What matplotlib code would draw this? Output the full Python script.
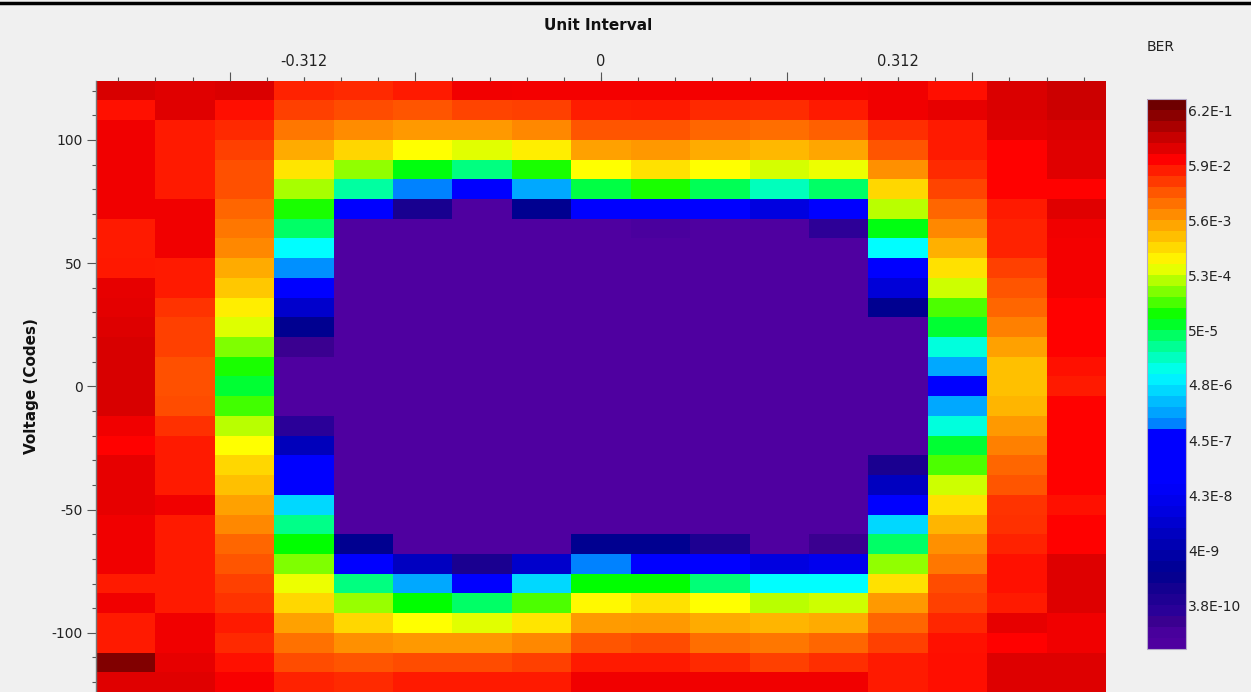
import numpy as np
import matplotlib
matplotlib.use("Agg")
import matplotlib.pyplot as plt
from matplotlib.colors import LinearSegmentedColormap, ListedColormap, Normalize
from matplotlib.cm import ScalarMappable

# ---------------- data ----------------
unit_interval = [-0.5, -0.4375, -0.375, -0.3125, -0.25, -0.1875, -0.125, -0.0625, 0.0,
                 0.0625, 0.125, 0.1875, 0.25, 0.3125, 0.375, 0.4375, 0.5]
voltage_codes = [120, 112, 104, 96, 88, 80, 72, 64, 56, 48, 40, 32, 24, 16, 8, 0,
                 -8, -16, -24, -32, -40, -48, -56, -64, -72, -80, -88, -96, -104, -112, -120]

# log10(BER) for every cell, rows follow voltage_codes, columns follow unit_interval
ber_log10 = [
    [-0.85, -0.92, -0.87, -1.36, -1.41, -1.31, -1.04, -1.05, -1.05, -1.05, -1.05, -1.05, -1.05, -1.03, -1.22, -0.87, -0.75],
    [-1.24, -0.92, -1.22, -1.57, -1.66, -1.73, -1.60, -1.57, -1.32, -1.31, -1.41, -1.43, -1.31, -1.03, -0.97, -0.87, -0.75],
    [-1.03, -1.31, -1.41, -1.99, -2.15, -2.25, -2.25, -2.12, -1.73, -1.73, -1.86, -1.92, -1.81, -1.45, -1.31, -0.92, -0.87],
    [-1.03, -1.31, -1.57, -2.39, -2.73, -3.07, -3.19, -2.93, -2.31, -2.24, -2.39, -2.50, -2.35, -1.73, -1.31, -1.13, -0.92],
    [-1.03, -1.31, -1.69, -2.86, -3.51, -4.10, -4.50, -3.96, -3.07, -2.82, -3.07, -3.24, -3.14, -2.18, -1.42, -1.13, -0.92],
    [-1.03, -1.31, -1.69, -3.42, -4.66, -6.04, -6.65, -5.79, -4.29, -3.96, -4.35, -4.79, -4.41, -2.74, -1.60, -1.13, -1.13],
    [-1.03, -1.03, -1.86, -3.96, -6.65, -9.18, -10.2, -8.80, -6.65, -6.65, -6.65, -7.67, -6.65, -3.35, -1.86, -1.31, -0.92],
    [-1.31, -1.03, -1.99, -4.41, -10.2, -10.2, -10.2, -10.2, -10.2, -9.96, -10.2, -10.2, -9.55, -4.11, -2.12, -1.36, -1.03],
    [-1.31, -1.03, -2.12, -5.12, -10.2, -10.2, -10.2, -10.2, -10.2, -10.2, -10.2, -10.2, -10.2, -5.12, -2.43, -1.36, -1.05],
    [-1.29, -1.31, -2.39, -5.97, -10.2, -10.2, -10.2, -10.2, -10.2, -10.2, -10.2, -10.2, -10.2, -6.65, -2.82, -1.57, -1.05],
    [-0.97, -1.31, -2.62, -6.65, -10.2, -10.2, -10.2, -10.2, -10.2, -10.2, -10.2, -10.2, -10.2, -7.78, -3.27, -1.73, -1.05],
    [-0.95, -1.48, -2.93, -7.93, -10.2, -10.2, -10.2, -10.2, -10.2, -10.2, -10.2, -10.2, -10.2, -8.80, -3.77, -1.86, -1.13],
    [-0.90, -1.57, -3.20, -8.80, -10.2, -10.2, -10.2, -10.2, -10.2, -10.2, -10.2, -10.2, -10.2, -10.2, -4.23, -2.06, -1.13],
    [-0.85, -1.57, -3.58, -9.72, -10.2, -10.2, -10.2, -10.2, -10.2, -10.2, -10.2, -10.2, -10.2, -10.2, -4.95, -2.31, -1.13],
    [-0.85, -1.69, -3.96, -10.2, -10.2, -10.2, -10.2, -10.2, -10.2, -10.2, -10.2, -10.2, -10.2, -10.2, -5.79, -2.56, -1.24],
    [-0.85, -1.69, -4.23, -10.2, -10.2, -10.2, -10.2, -10.2, -10.2, -10.2, -10.2, -10.2, -10.2, -10.2, -6.65, -2.56, -1.31],
    [-0.85, -1.66, -3.81, -10.2, -10.2, -10.2, -10.2, -10.2, -10.2, -10.2, -10.2, -10.2, -10.2, -10.2, -5.79, -2.47, -1.13],
    [-1.03, -1.46, -3.35, -9.51, -10.2, -10.2, -10.2, -10.2, -10.2, -10.2, -10.2, -10.2, -10.2, -10.2, -4.95, -2.25, -1.13],
    [-1.13, -1.31, -3.07, -8.16, -10.2, -10.2, -10.2, -10.2, -10.2, -10.2, -10.2, -10.2, -10.2, -10.2, -4.23, -2.06, -1.13],
    [-0.97, -1.31, -2.74, -6.65, -10.2, -10.2, -10.2, -10.2, -10.2, -10.2, -10.2, -10.2, -10.2, -9.21, -3.77, -1.86, -1.13],
    [-0.97, -1.31, -2.56, -6.65, -10.2, -10.2, -10.2, -10.2, -10.2, -10.2, -10.2, -10.2, -10.2, -8.08, -3.27, -1.73, -1.13],
    [-0.97, -1.03, -2.31, -5.42, -10.2, -10.2, -10.2, -10.2, -10.2, -10.2, -10.2, -10.2, -10.2, -6.65, -2.82, -1.48, -1.24],
    [-1.03, -1.31, -2.12, -4.54, -10.2, -10.2, -10.2, -10.2, -10.2, -10.2, -10.2, -10.2, -10.2, -5.42, -2.47, -1.46, -1.13],
    [-1.03, -1.31, -1.86, -4.05, -8.80, -10.2, -10.2, -10.2, -8.80, -8.80, -9.26, -10.2, -9.72, -4.41, -2.18, -1.36, -1.13],
    [-1.03, -1.31, -1.73, -3.58, -6.65, -8.08, -9.21, -7.93, -6.04, -6.65, -6.65, -7.67, -7.44, -3.51, -1.99, -1.24, -0.90],
    [-1.31, -1.31, -1.57, -3.14, -4.50, -5.79, -6.65, -5.42, -4.05, -4.05, -4.47, -5.12, -5.12, -2.82, -1.66, -1.24, -0.90],
    [-1.03, -1.31, -1.48, -2.74, -3.48, -4.05, -4.41, -3.77, -3.02, -2.82, -3.07, -3.35, -3.27, -2.25, -1.57, -1.31, -0.90],
    [-1.31, -1.03, -1.31, -2.31, -2.74, -3.07, -3.19, -2.86, -2.27, -2.25, -2.39, -2.47, -2.39, -1.86, -1.39, -0.97, -1.03],
    [-1.31, -1.03, -1.41, -1.94, -2.18, -2.25, -2.25, -2.12, -1.73, -1.66, -1.92, -1.99, -1.86, -1.57, -1.24, -1.13, -1.03],
    [-0.23, -0.97, -1.24, -1.66, -1.73, -1.66, -1.66, -1.57, -1.31, -1.31, -1.41, -1.57, -1.45, -1.31, -1.22, -0.90, -0.90],
    [-0.92, -0.92, -1.08, -1.36, -1.42, -1.31, -1.31, -1.31, -1.03, -1.03, -1.03, -1.03, -1.03, -1.31, -1.22, -0.90, -0.90],
]

x_tick_values = [-0.3125, 0.0, 0.3125]
x_tick_labels = ["-0.312", "0", "0.312"]
y_tick_values = [-100, -50, 0, 50, 100]
y_tick_labels = ["-100", "-50", "0", "50", "100"]
ber_tick_values = [6.2e-1, 5.9e-2, 5.6e-3, 5.3e-4, 5e-5, 4.8e-6, 4.5e-7, 4.3e-8, 4e-9, 3.8e-10]
ber_tick_labels = ["6.2E-1", "5.9E-2", "5.6E-3", "5.3E-4", "5E-5", "4.8E-6",
                   "4.5E-7", "4.3E-8", "4E-9", "3.8E-10"]

# ---------------- colour scale ----------------
N_BANDS = 50
STEP = 0.2046                 # decades per colour band
L_MIN = -N_BANDS * STEP
anchors = [(0, '#600000'), (0.5, '#6E0000'), (1.5, '#8C0000'), (2.5, '#AA0000'),
           (3.5, '#C80000'), (4.5, '#E00000'), (5.5, '#FF0000'), (8.1, '#FF4C00'),
           (11, '#FF9900'), (13.4, '#FFD700'), (15, '#FFFF00'), (17.5, '#7FFF00'),
           (19.8, '#00FF00'), (22, '#00FF80'), (25, '#00FFFF'), (29.5, '#0088FF'),
           (30, '#0000FF'), (35, '#0000FF'), (37.5, '#0000E0'), (39.5, '#0000C0'),
           (43, '#000090'), (45, '#1A0090'), (46.5, '#2A0098'), (47.5, '#3A0090'),
           (48.7, '#4A009E'), (50, '#5000A0')]
cm_list = sorted([(1 - k / N_BANDS, c) for k, c in anchors])
cmap = LinearSegmentedColormap.from_list('ber', cm_list, N=1024)
norm = Normalize(vmin=L_MIN, vmax=0.0)
band_centres = np.linspace(0, 1, N_BANDS, endpoint=False) + 0.5 / N_BANDS
band_cmap = ListedColormap([cmap(u) for u in band_centres])

# ---------------- figure ----------------
BG = '#F0F0F0'
W, H = 1251, 692
fig = plt.figure(figsize=(W / 100, H / 100), dpi=100, facecolor=BG)

ax = fig.add_axes([96 / W, 0.0, 1010 / W, (H - 80.7) / H])
ax.set_facecolor(BG)

xc = np.array(unit_interval)
yc = np.array(voltage_codes, dtype=float)
def edges(c):
    mid = (c[:-1] + c[1:]) / 2
    return np.concatenate([[c[0] - (c[1] - c[0]) / 2], mid, [c[-1] + (c[-1] - c[-2]) / 2]])
xe = edges(xc)
ye = edges(yc)
ax.pcolormesh(xe, ye, np.array(ber_log10), cmap=cmap, norm=norm,
              shading='flat', antialiased=False, edgecolors='none')
ax.set_xlim(xe[0], xe[-1])
ax.set_ylim(min(ye), max(ye))

tick_col = '#555555'
lab_col = '#222222'
for s in ['right', 'bottom', 'top']:
    ax.spines[s].set_visible(False)
ax.spines['left'].set_color('#777777')
ax.spines['left'].set_linewidth(1.0)

# x axis on top
ax.xaxis.tick_top()
ax.tick_params(axis='x', which='both', bottom=False, top=True, labeltop=False,
               labelbottom=False, colors=tick_col)
minor_x = np.arange(-13, 14) * (5 / 128)
long_x = np.arange(-2, 3) * (25 / 128)
ax.set_xticks(long_x)
ax.set_xticks(minor_x, minor=True)
ax.tick_params(axis='x', which='major', length=6.5, width=0.8)
ax.tick_params(axis='x', which='minor', length=3, width=0.8)

sec = ax.secondary_xaxis('top')
sec.set_xticks(x_tick_values, labels=x_tick_labels)
sec.tick_params(length=3, width=0.8, colors=tick_col, labelcolor=lab_col,
                labelsize=10.5, pad=5.5)
for s in sec.spines.values():
    s.set_visible(False)

# y axis
ax.set_yticks(y_tick_values, labels=y_tick_labels)
ax.set_yticks(np.arange(-120, 121, 10), minor=True)
ax.tick_params(axis='y', which='major', length=6.5, width=0.8, colors=tick_col,
               labelcolor=lab_col, labelsize=10, pad=3)
ax.tick_params(axis='y', which='minor', length=2.6, width=0.8, colors=tick_col)
ax.set_ylabel('Voltage (Codes)', fontsize=11, fontweight='bold', color='#111111')
ax.yaxis.set_label_coords((39 - 96) / 1010, 0.5)

fig.text(598 / W, 1 - 26 / H, 'Unit Interval', ha='center', va='center',
         fontsize=11, fontweight='bold', color='#111111')
fig.text(1147 / W, 1 - 47 / H, 'BER', ha='left', va='center', fontsize=10,
         color=lab_col)

# colour bar
cax = fig.add_axes([1147 / W, (H - 649) / H, 39 / W, 550 / H])
sm = ScalarMappable(norm=norm, cmap=band_cmap)
cb = fig.colorbar(sm, cax=cax)
cb.set_ticks(np.log10(ber_tick_values), labels=ber_tick_labels)
cb.minorticks_off()
cax.tick_params(length=0, pad=1.5, labelsize=10, labelcolor=lab_col)
cb.outline.set_edgecolor('#b4aac8')
cb.outline.set_linewidth(0.8)

# top dark border line of the panel
fig.add_artist(plt.Line2D([0, 1], [1 - 2.5 / H, 1 - 2.5 / H], color='black',
                          linewidth=2.5, transform=fig.transFigure))

fig.savefig('out.png', dpi=100, facecolor=BG)
